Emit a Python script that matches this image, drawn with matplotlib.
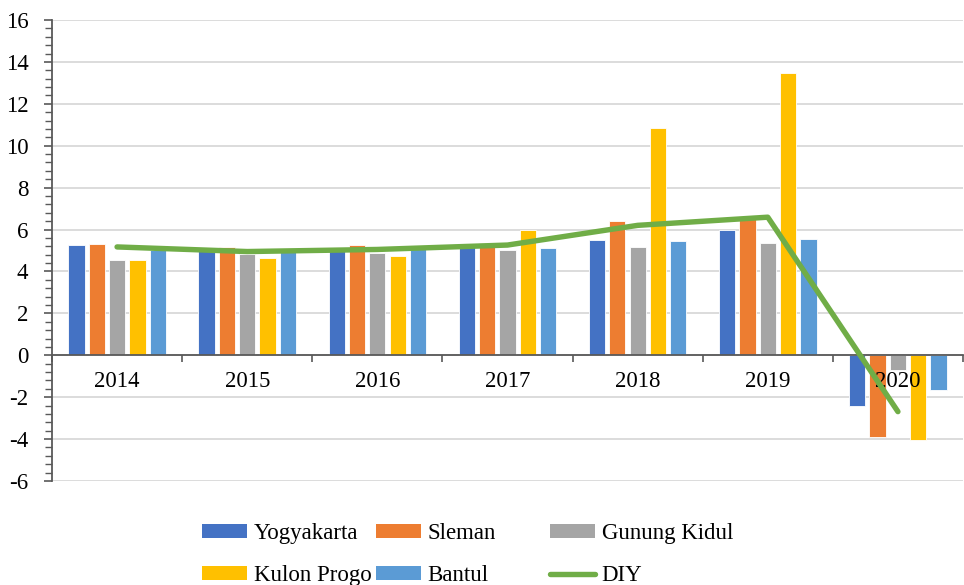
import matplotlib
matplotlib.use("Agg")
import matplotlib.pyplot as plt
import numpy as np
from matplotlib.patches import Patch
from matplotlib.lines import Line2D
from matplotlib.ticker import MultipleLocator, FixedLocator, NullFormatter

years = ["2014", "2015", "2016", "2017", "2018", "2019", "2020"]
yogyakarta = [5.28, 5.09, 5.11, 5.24, 5.49, 5.96, -2.42]
sleman = [5.30, 5.18, 5.25, 5.35, 6.42, 6.49, -3.91]
gunung_kidul = [4.54, 4.82, 4.89, 5.00, 5.16, 5.34, -0.68]
kulon_progo = [4.57, 4.62, 4.76, 5.97, 10.84, 13.49, -4.06]
bantul = [5.04, 4.97, 5.06, 5.10, 5.47, 5.53, -1.66]
diy = [5.17, 4.95, 5.05, 5.26, 6.20, 6.59, -2.69]

series = [
    ("Yogyakarta", yogyakarta, "#4472C4"),
    ("Sleman", sleman, "#ED7D31"),
    ("Gunung Kidul", gunung_kidul, "#A5A5A5"),
    ("Kulon Progo", kulon_progo, "#FFC000"),
    ("Bantul", bantul, "#5B9BD5"),
]
diy_color = "#70AD47"

plt.rcParams['font.family'] = ['Liberation Serif', 'DejaVu Serif']
plt.rcParams['axes.unicode_minus'] = False

fig = plt.figure(figsize=(9.64, 5.85), dpi=100)
ax = fig.add_axes([52/964, 1-481/585, (963-52)/964, (481-20)/585])

x = np.arange(len(years))
step = 0.156
width = 0.125
for i, (name, vals, col) in enumerate(series):
    ax.bar(x + (i-2)*step, vals, width=width, color=col, edgecolor='white',
           linewidth=0.6, zorder=2)

ax.plot(x, diy, color=diy_color, linewidth=3.9, solid_capstyle='round',
        solid_joinstyle='round', zorder=6)

ax.set_xlim(-0.5, len(years)-0.5)
ax.set_ylim(-6, 16)
ax.yaxis.set_major_locator(MultipleLocator(2))
ax.yaxis.set_minor_locator(MultipleLocator(0.4))
ax.grid(axis='y', which='major', color='#D9D9D9', linewidth=1.3)
ax.yaxis.set_zorder(0.5)
ax.xaxis.set_zorder(5)

for s in ['top', 'right']:
    ax.spines[s].set_visible(False)
ax.spines['left'].set_color('#595959')
ax.spines['left'].set_linewidth(1.3)
ax.spines['bottom'].set_position(('data', 0))
ax.spines['bottom'].set_color('#595959')
ax.spines['bottom'].set_linewidth(1.3)
ax.spines['bottom'].set_zorder(4)

ax.xaxis.set_major_locator(FixedLocator(np.arange(len(years)+1)-0.5))
ax.xaxis.set_major_formatter(NullFormatter())
ax.xaxis.set_minor_locator(FixedLocator(x))
ax.set_xticklabels(years, minor=True)
ax.tick_params(axis='x', which='major', direction='out', length=5, width=1.2, color='#595959')
ax.tick_params(axis='x', which='minor', length=0, pad=11, labelsize=16.5, labelcolor='#000000')
ax.tick_params(axis='y', which='major', direction='out', length=6, width=1.2,
               color='#595959', pad=11, labelsize=16.5)
ax.tick_params(axis='y', which='minor', direction='out', length=5, width=1.0, color='#595959')

handles = [Patch(facecolor=c) for _, _, c in series] + \
          [Line2D([0], [0], color=diy_color, linewidth=3.9, solid_capstyle='round')]
labels = [n for n, _, _ in series] + ["DIY"]

cols = [(0, 3), (1, 4), (2, 5)]
xs = [202, 376, 550]
for (a, b), xp in zip(cols, xs):
    fig.legend([handles[a], handles[b]], [labels[a], labels[b]],
               loc='upper left', bbox_to_anchor=(xp/964, 1-523/585),
               frameon=False, fontsize=16.5, handlelength=1.95, handleheight=0.55,
               handletextpad=0.3, labelspacing=0.93, borderpad=0, borderaxespad=0)

fig.savefig("out.png", dpi=100)
